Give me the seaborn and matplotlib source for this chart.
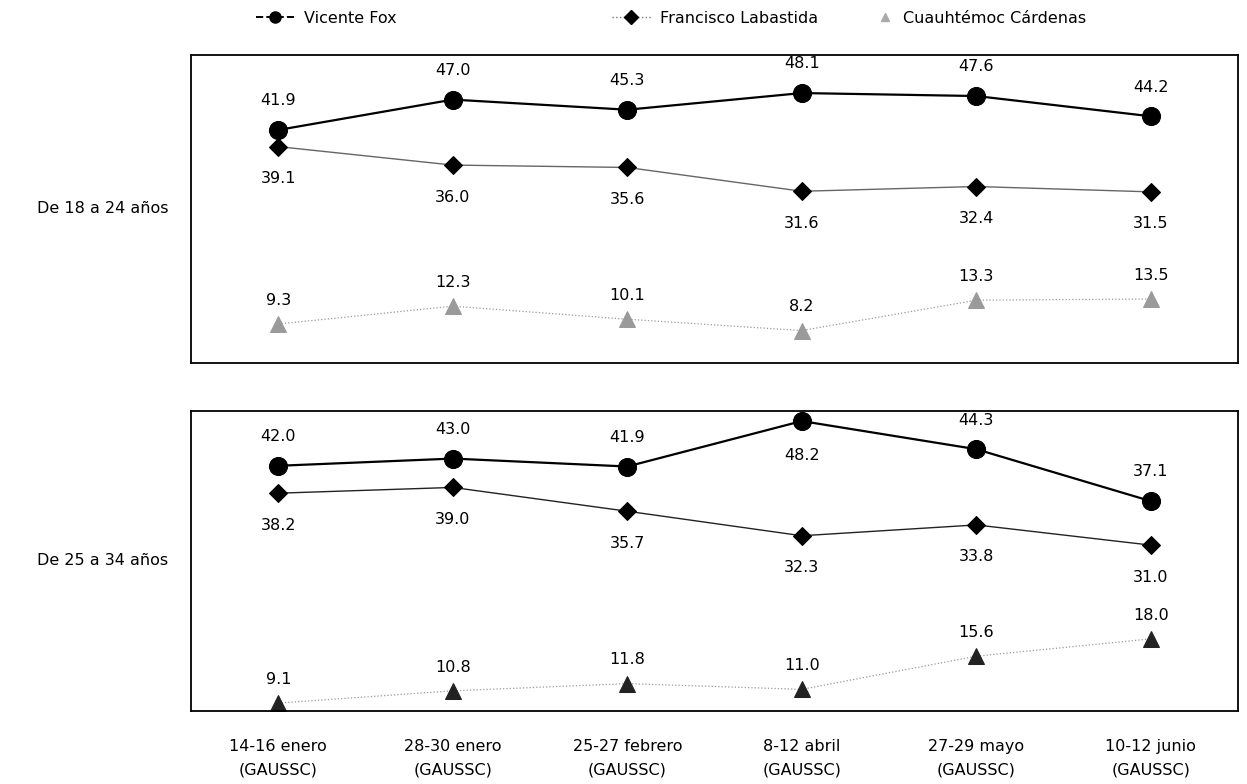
import matplotlib
matplotlib.use("Agg")
import matplotlib.pyplot as plt
from matplotlib.lines import Line2D
import seaborn as sns
import pandas as pd

# ---- data ----
fechas = ["14-16 enero\n(GAUSSC)", "28-30 enero\n(GAUSSC)", "25-27 febrero\n(GAUSSC)",
          "8-12 abril\n(GAUSSC)", "27-29 mayo\n(GAUSSC)", "10-12 junio\n(GAUSSC)"]
grupos = ["De 18 a 24 años", "De 25 a 34 años"]
candidatos = ["Vicente Fox", "Francisco Labastida", "Cuauhtémoc Cárdenas"]

fox_18_24 = [41.9, 47.0, 45.3, 48.1, 47.6, 44.2]
labastida_18_24 = [39.1, 36.0, 35.6, 31.6, 32.4, 31.5]
cardenas_18_24 = [9.3, 12.3, 10.1, 8.2, 13.3, 13.5]

fox_25_34 = [42.0, 43.0, 41.9, 48.2, 44.3, 37.1]
labastida_25_34 = [38.2, 39.0, 35.7, 32.3, 33.8, 31.0]
cardenas_25_34 = [9.1, 10.8, 11.8, 11.0, 15.6, 18.0]

# ---- style ----
sns.set_theme(style="white")
plt.rcParams['font.family'] = ['DejaVu Sans']
plt.rcParams['text.color'] = 'black'

fig = plt.figure(figsize=(12.47, 7.84), dpi=100)
ax1 = fig.add_axes([0.1532, 0.537, 0.8396, 0.3929])
ax2 = fig.add_axes([0.1532, 0.0931, 0.8396, 0.3827])

panels = [
    (ax1, grupos[0], [fox_18_24, labastida_18_24, cardenas_18_24], (2.75, 54.5), "#9a9a9a", "#666666"),
    (ax2, grupos[1], [fox_25_34, labastida_25_34, cardenas_25_34], (8.0, 49.6), "#222222", "#222222"),
]

styles = [
    dict(color="black", marker="o", markersize=13, linewidth=1.6, linestyle="-", dy=21),
    dict(color="#333333", marker="D", markersize=9, linewidth=1.0, linestyle="-", dy=-23),
    dict(color="#9a9a9a", marker="^", markersize=11, linewidth=0.9, linestyle=":", dy=17),
]

x = list(range(len(fechas)))
for ax, grupo, series, ylim, tri_color, lab_color in panels:
    for k, (vals, st) in enumerate(zip(series, styles)):
        df = pd.DataFrame({"x": x, "y": vals})
        color = st["color"]
        mcolor = color
        if k == 1:
            color = lab_color
            mcolor = "black"
        if k == 2:
            mcolor = tri_color
        sns.lineplot(data=df, x="x", y="y", ax=ax, color=color, linewidth=st["linewidth"],
                     linestyle=st["linestyle"], marker=st["marker"], markersize=st["markersize"],
                     markerfacecolor=mcolor, markeredgecolor=mcolor, legend=False)
        for xi, v in zip(x, vals):
            dy = st["dy"]
            if k == 0 and v == max(vals) and ax is ax2:
                dy = -25
            ax.annotate(f"{v:.1f}", (xi, v), xytext=(0, dy), textcoords="offset points",
                        ha="center", va="center", fontsize=11.5, color="black")
    ax.set_xlim(-0.5, 5.5)
    ax.set_ylim(*ylim)
    ax.set_yticks([])
    ax.set_xlabel("")
    ax.set_ylabel("")
    for s in ax.spines.values():
        s.set_color("black")
        s.set_linewidth(1.3)
    ax.text(-0.022, 0.5, grupo, transform=ax.transAxes, ha="right", va="center",
            fontsize=11.5, color="black")

ax1.set_xticks([])
ax2.set_xticks(x)
ax2.set_xticklabels(fechas, fontsize=11.5, color="black", linespacing=1.75)
ax2.tick_params(axis="x", length=0, pad=20)

handles = [
    Line2D([0], [0], color="black", marker="o", markersize=8, linewidth=1.4, linestyle="--"),
    Line2D([0], [0], color="#777777", marker="D", markersize=7, linewidth=1.0, linestyle=":",
           markerfacecolor="black", markeredgecolor="black"),
    Line2D([0], [0], color="white", marker="^", markersize=6, linewidth=0,
           markerfacecolor="#aaaaaa", markeredgecolor="#aaaaaa"),
]
legend_x = [0.2053, 0.4910, 0.7035]
hlens = [2.4, 2.4, 1.0]
for h, lab, lx, hl in zip(handles, candidatos, legend_x, hlens):
    leg = fig.legend([h], [lab], loc="center left", bbox_to_anchor=(lx, 0.977),
                     frameon=False, handlelength=hl, fontsize=11.5, borderpad=0,
                     borderaxespad=0, handletextpad=0.6)
    for t in leg.get_texts():
        t.set_color("black")

fig.savefig("out.png", dpi=100, facecolor="white")
